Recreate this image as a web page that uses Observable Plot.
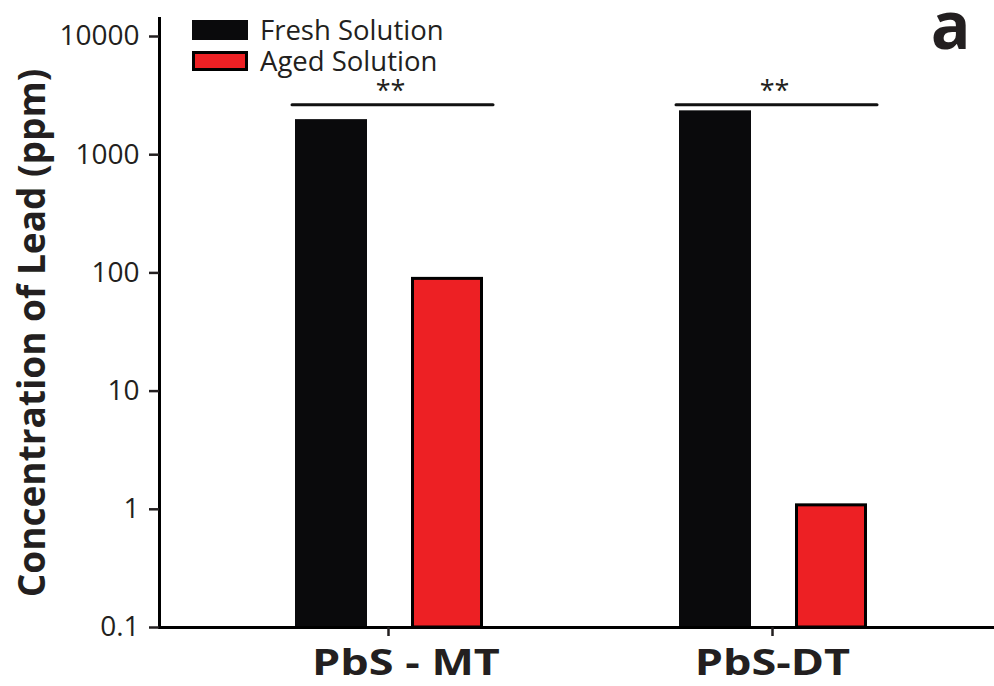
<!DOCTYPE html>
<html><head><meta charset="utf-8">
<script src="https://cdn.jsdelivr.net/npm/d3@7"></script>
<script src="https://cdn.jsdelivr.net/npm/@observablehq/plot@0.6"></script>
<style>
body{margin:0;background:#fff;font-family:"Open Sans",sans-serif;}
#wrap{position:relative;width:994px;height:686px;}
.legend{position:absolute;left:192px;top:14px;font-size:27.5px;color:#231f20;}
.row{display:flex;align-items:center;height:31px;}
.sw{width:56px;height:20px;box-sizing:border-box;margin-right:12px;}
</style></head><body><div id="wrap"></div>
<script>
const categories = ["PbS - MT", "PbS-DT"];
const series = ["Fresh Solution", "Aged Solution"];
const seriesColors = ["#0a0a0c", "#ed2024"];
const freshValues = [1980, 2350];
const agedValues = [89, 1.08];
const yTicks = [0.1, 1, 10, 100, 1000, 10000];
const yTickLabels = ["0.1", "1", "10", "100", "1000", "10000"];
const sigLabels = ["**", "**"];
const sigLevels = [2650, 2650];
const yLabel = "Concentration of Lead (ppm)";
const panelLabel = "a";

const fresh = categories.map((c, i) => ({cat: c, v: freshValues[i]}));
const aged = categories.map((c, i) => ({cat: c, v: agedValues[i]}));
const sig = categories.map((c, i) => ({cat: c, v: sigLevels[i], t: sigLabels[i]}));
const base = 0.1;

const chart = Plot.plot({
  width: 994,
  height: 686,
  marginLeft: 159,
  marginRight: 0,
  marginTop: 18,
  marginBottom: 59,
  style: {fontFamily: "Open Sans, sans-serif", color: "#231f20", background: "#fff"},
  x: {type: "band", domain: categories, paddingInner: 0.813, paddingOuter: 0.491, align: 0.51, label: null},
  y: {type: "log", domain: [0.1, 14200], label: null},
  marks: [
    Plot.barY(fresh, {x: "cat", y1: base, y2: "v", fill: seriesColors[0], dx: -57}),
    Plot.barY(aged, {x: "cat", y1: base, y2: "v", fill: seriesColors[1], stroke: "#000", strokeWidth: 3, insetLeft: 1.5, insetRight: 1.5, dx: 59}),
    Plot.tickY(sig, {x: "cat", y: "v", stroke: "#111", strokeWidth: 3, strokeLinecap: "round", insetLeft: -60, insetRight: -69}),
    Plot.text(sig, {x: "cat", y: "v", text: "t", dy: -13, dx: 2, fontSize: 27, fill: "#231f20"}),
    Plot.frame({anchor: "left", stroke: "#000", strokeWidth: 3}),
    Plot.frame({anchor: "bottom", stroke: "#000", strokeWidth: 3}),
    Plot.axisY({ticks: yTicks, tickFormat: (d) => yTickLabels[yTicks.indexOf(d)], tickSize: 10, tickPadding: 10, fontSize: 28, strokeWidth: 2.5, label: null}),
    Plot.axisX({tickSize: 9, tickPadding: 13, fontSize: 36, fontWeight: "bold", strokeWidth: 2.5, label: null}),
    Plot.text([yLabel], {frameAnchor: "left", textAnchor: "middle", rotate: -90, dx: -126, dy: 10, fontSize: 37, fontWeight: "bold", fill: "#231f20"}),
    Plot.text([panelLabel], {frameAnchor: "top-right", dx: -24, dy: -16, fontSize: 66, fontWeight: "bold", fill: "#231f20", lineAnchor: "top", textAnchor: "end"})
  ]
});
// widen the category labels like the reference's broad lettering
d3.select(chart).selectAll('g[aria-label="x-axis tick label"] text').each(function (d, i) {
  const t = this.getAttribute("transform") || "";
  this.setAttribute("transform", t + " scale(1.25,1)");
  if (i === 0) this.setAttribute("dx", 14);
});
const wrap = document.getElementById("wrap");
wrap.appendChild(chart);
const lg = document.createElement("div");
lg.className = "legend";
series.forEach((s, i) => {
  const row = document.createElement("div");
  row.className = "row";
  const sw = document.createElement("div");
  sw.className = "sw";
  sw.style.background = seriesColors[i];
  if (i === 1) sw.style.border = "3px solid #000";
  const t = document.createElement("span");
  t.textContent = s;
  row.appendChild(sw); row.appendChild(t);
  lg.appendChild(row);
});
wrap.appendChild(lg);
</script></body></html>
